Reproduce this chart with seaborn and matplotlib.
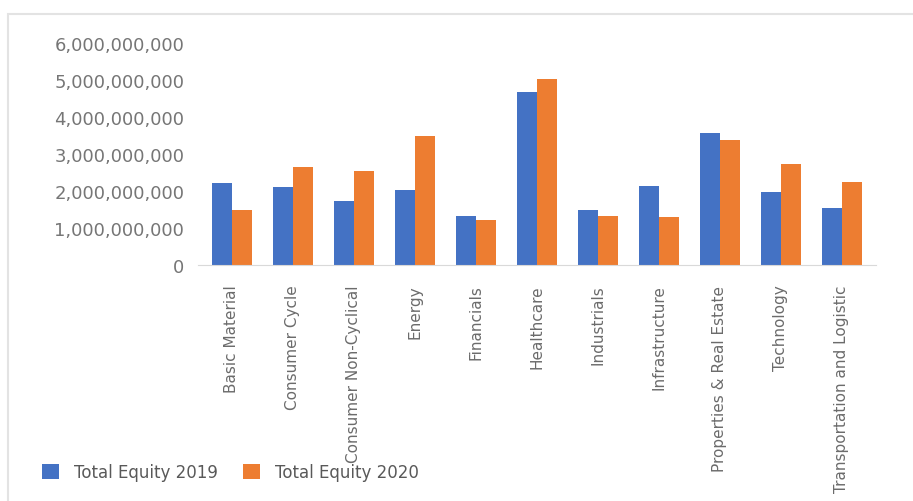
import pandas as pd
import seaborn as sns
import matplotlib.pyplot as plt
from matplotlib.ticker import FuncFormatter

# Total equity per sector
sectors = ['Basic Material', 'Consumer Cycle', 'Consumer Non-Cyclical', 'Energy',
           'Financials', 'Healthcare', 'Industrials', 'Infrastructure',
           'Properties & Real Estate', 'Technology', 'Transportation and Logistic']
equity_2019 = [2.23e9, 2.12e9, 1.72e9, 2.04e9, 1.33e9, 4.69e9, 1.48e9, 2.13e9, 3.57e9, 1.98e9, 1.55e9]
equity_2020 = [1.50e9, 2.66e9, 2.53e9, 3.49e9, 1.21e9, 5.04e9, 1.34e9, 1.30e9, 3.37e9, 2.73e9, 2.24e9]
series_names = ['Total Equity 2019', 'Total Equity 2020']
y_ticks = [0, 1e9, 2e9, 3e9, 4e9, 5e9, 6e9]

df = pd.DataFrame({'Sector': sectors,
                   series_names[0]: equity_2019,
                   series_names[1]: equity_2020})
long_df = df.melt('Sector', var_name='Series', value_name='Equity')

sns.set_style('white')
plt.rcParams['font.family'] = ['DejaVu Sans']

fig = plt.figure(figsize=(9.13, 5.02), dpi=100)
ax = fig.add_axes([0.217, 0.470, 0.742, 0.442])

sns.barplot(data=long_df, x='Sector', y='Equity', hue='Series',
            palette=['#4472C4', '#ED7D31'], width=0.66, saturation=1,
            linewidth=0, ax=ax, legend=True)

ax.set_ylim(0, 6e9)
ax.set_yticks(y_ticks)
ax.yaxis.set_major_formatter(FuncFormatter(lambda v, p: f'{int(v):,}'))
ax.set_xlabel('')
ax.set_ylabel('')
ax.set_xlim(-0.55, len(sectors) - 0.45)

for s in ['top', 'right', 'left']:
    ax.spines[s].set_visible(False)
ax.spines['bottom'].set_color('#d9d9d9')
ax.tick_params(axis='y', length=0, pad=10, labelsize=13, labelcolor='#767676')
ax.tick_params(axis='x', length=0, pad=14, labelsize=11, labelcolor='#6b6b6b')
plt.setp(ax.get_xticklabels(), rotation=90, va='top', ha='center')

handles, labels = ax.get_legend_handles_labels()
ax.get_legend().remove()
fig.legend(handles, labels, loc='lower left', bbox_to_anchor=(0.03, 0.01),
           ncol=2, frameon=False, fontsize=12, handlelength=1.0,
           handleheight=1.0, handletextpad=0.9, columnspacing=1.5,
           labelcolor='#595959')

# light frame around the chart like the screenshot
fig.patches.append(plt.Rectangle((0.009, -0.01), 1.0, 0.98, transform=fig.transFigure,
                                 fill=False, edgecolor='#e3e3e3', linewidth=1.5))

fig.savefig('out.png', dpi=100)
